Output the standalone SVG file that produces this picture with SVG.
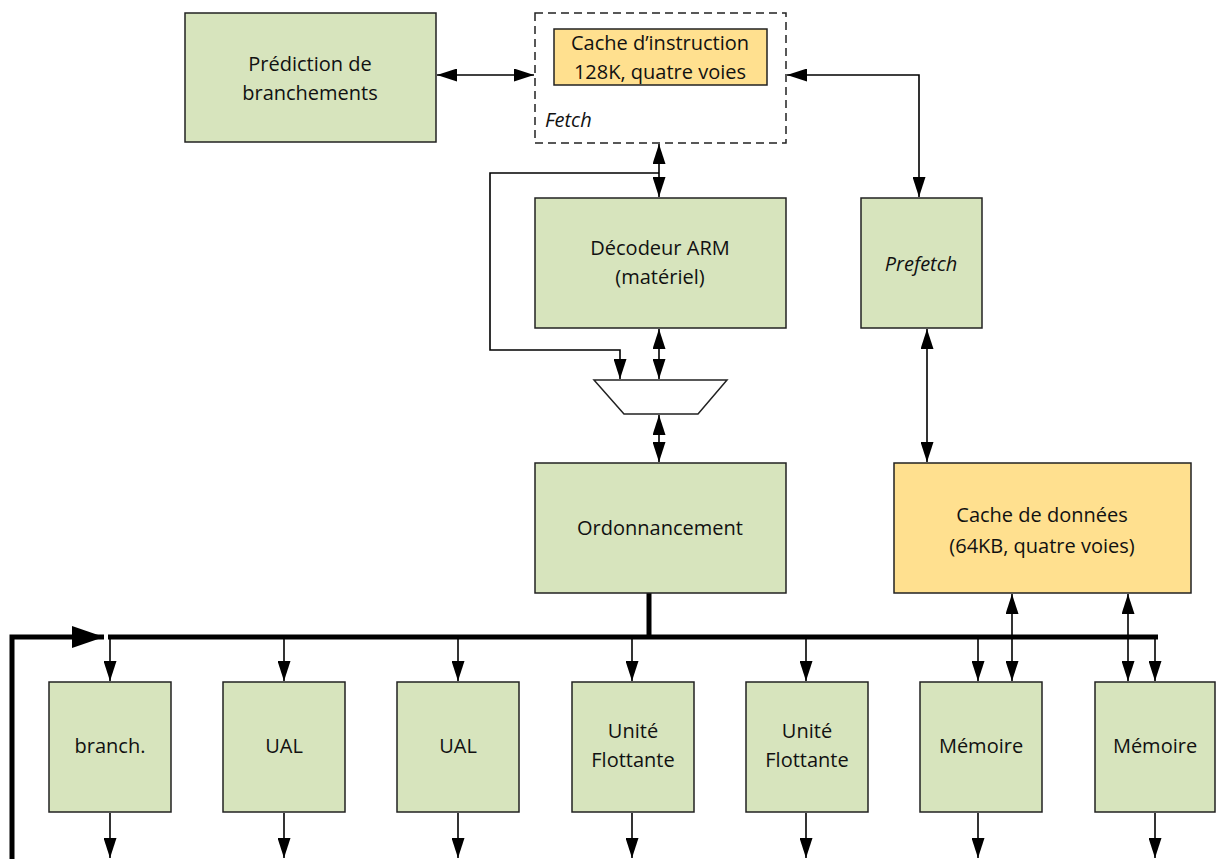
<svg xmlns="http://www.w3.org/2000/svg" width="1216" height="859" viewBox="0 0 1216 859">
<defs>
<marker id="ah" markerWidth="20" markerHeight="13" refX="20" refY="6.5" viewBox="0 0 20 13" markerUnits="userSpaceOnUse" orient="auto-start-reverse">
<path d="M0,0 L20,6.5 L0,13 Z" fill="#000"/>
</marker>
<marker id="big" viewBox="0 0 32 22" refX="32" refY="11" markerWidth="32" markerHeight="22" markerUnits="userSpaceOnUse" orient="auto">
<path d="M0,0 L32,11 L0,22 Z" fill="#000"/>
</marker>
<style>
.g{fill:#d7e4bd;stroke:#222;stroke-width:1.5}
.o{fill:#ffe08f;stroke:#222;stroke-width:1.5}
.t{font-family:"Open Sans","Noto Sans",sans-serif;font-size:20px;fill:#111;text-anchor:middle}
.i{font-style:italic}
.s{text-anchor:start}
.c{fill:none;stroke:#000;stroke-width:1.6}
.a{marker-end:url(#ah)}
.b{marker-start:url(#ah);marker-end:url(#ah)}
.k{fill:none;stroke:#000;stroke-width:5}
</style>
</defs>
<rect width="1216" height="859" fill="#fff"/>
<g id="connectors">
<line class="c b" x1="437" y1="75" x2="534" y2="75"/>
<polyline class="c b" points="787,75 919,75 919,197"/>
<line class="c b" x1="659" y1="144" x2="659" y2="197"/>
<polyline class="c a" points="659,173 490,173 490,350 620,350 620,379"/>
<line class="c b" x1="659" y1="329" x2="659" y2="379"/>
<line class="c b" x1="659" y1="415" x2="659" y2="462"/>
<line class="c b" x1="927" y1="329" x2="927" y2="462"/>
<line class="k" x1="649" y1="593" x2="649" y2="637"/>
<line class="k" x1="108" y1="637" x2="1158" y2="637"/>
<polyline class="k" points="12,859 12,637 104,637" marker-end="url(#big)"/>
<line class="c a" x1="110" y1="637" x2="110" y2="681"/>
<line class="c a" x1="284" y1="637" x2="284" y2="681"/>
<line class="c a" x1="458" y1="637" x2="458" y2="681"/>
<line class="c a" x1="632" y1="637" x2="632" y2="681"/>
<line class="c a" x1="806" y1="637" x2="806" y2="681"/>
<line class="c a" x1="978" y1="637" x2="978" y2="681"/>
<line class="c a" x1="1155" y1="637" x2="1155" y2="681"/>
<line class="c b" x1="1012" y1="594" x2="1012" y2="681"/>
<line class="c b" x1="1128" y1="594" x2="1128" y2="681"/>
<line class="c a" x1="110" y1="813" x2="110" y2="858"/>
<line class="c a" x1="284" y1="813" x2="284" y2="858"/>
<line class="c a" x1="458" y1="813" x2="458" y2="858"/>
<line class="c a" x1="632" y1="813" x2="632" y2="858"/>
<line class="c a" x1="806" y1="813" x2="806" y2="858"/>
<line class="c a" x1="978" y1="813" x2="978" y2="858"/>
<line class="c a" x1="1155" y1="813" x2="1155" y2="858"/>
</g>
<g id="prediction">
<rect class="g" x="185" y="13" width="251" height="129"/>
<text class="t" x="310" y="71">Prédiction de</text>
<text class="t" x="310" y="100">branchements</text>
</g>
<g id="fetch">
<rect x="535" y="13" width="251" height="130" fill="none" stroke="#222" stroke-width="1.5" stroke-dasharray="8,5"/>
<text class="t i s" x="545" y="127">Fetch</text>
</g>
<g id="icache">
<rect class="o" x="554" y="29" width="213" height="56"/>
<text class="t" x="660" y="50">Cache d’instruction</text>
<text class="t" x="660" y="79">128K, quatre voies</text>
</g>
<g id="decodeur">
<rect class="g" x="535" y="198" width="251" height="130"/>
<text class="t" x="660" y="255">Décodeur ARM</text>
<text class="t" x="660" y="284">(matériel)</text>
</g>
<g id="mux">
<polygon points="594,380 727,380 698,414 624,414" fill="#fff" stroke="#222" stroke-width="1.5"/>
</g>
<g id="prefetch">
<rect class="g" x="861" y="198" width="121" height="130"/>
<text class="t i" x="921" y="271">Prefetch</text>
</g>
<g id="ordonnancement">
<rect class="g" x="535" y="463" width="251" height="130"/>
<text class="t" x="660" y="535">Ordonnancement</text>
</g>
<g id="dcache">
<rect class="o" x="894" y="463" width="297" height="130"/>
<text class="t" x="1042" y="522">Cache de données</text>
<text class="t" x="1042" y="553">(64KB, quatre voies)</text>
</g>
<g id="branch">
<rect class="g" x="49" y="682" width="122" height="130"/>
<text class="t" x="110" y="753">branch.</text>
</g>
<g id="ual1">
<rect class="g" x="223" y="682" width="122" height="130"/>
<text class="t" x="284" y="753">UAL</text>
</g>
<g id="ual2">
<rect class="g" x="397" y="682" width="122" height="130"/>
<text class="t" x="458" y="753">UAL</text>
</g>
<g id="fpu1">
<rect class="g" x="572" y="682" width="122" height="130"/>
<text class="t" x="633" y="738">Unité</text>
<text class="t" x="633" y="767">Flottante</text>
</g>
<g id="fpu2">
<rect class="g" x="746" y="682" width="122" height="130"/>
<text class="t" x="807" y="738">Unité</text>
<text class="t" x="807" y="767">Flottante</text>
</g>
<g id="mem1">
<rect class="g" x="920" y="682" width="122" height="130"/>
<text class="t" x="981" y="753">Mémoire</text>
</g>
<g id="mem2">
<rect class="g" x="1095" y="682" width="120" height="130"/>
<text class="t" x="1155" y="753">Mémoire</text>
</g>
</svg>
